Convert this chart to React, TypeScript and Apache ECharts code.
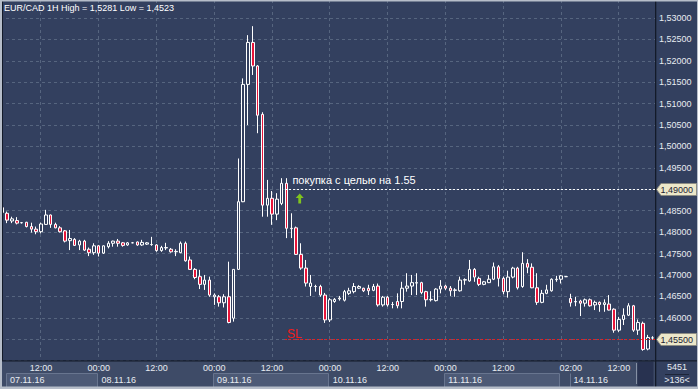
import React, { useEffect, useRef } from 'react';
import * as echarts from 'echarts';

// ---------- data ----------
const DAY_SEGMENTS: [string, number, number][] = [
  ['07.11.16', 4, 23],
  ['08.11.16', 0, 23],
  ['09.11.16', 0, 23],
  ['10.11.16', 0, 23],
  ['11.11.16', 0, 23],
  ['14.11.16', 0, 19],
];
const categories: string[] = [];
DAY_SEGMENTS.forEach(([d, a, b]) => {
  for (let h = a; h <= b; h++) categories.push(`${d} ${String(h).padStart(2, '0')}:00`);
});

// [open, close, low, high]
const ohlc: number[][] = [
  [1.4857, 1.4846, 1.4845, 1.4861],
  [1.4844, 1.4828, 1.4821, 1.4848],
  [1.4826, 1.4831, 1.4821, 1.4836],
  [1.4827, 1.4821, 1.4818, 1.4835],
  [1.4822, 1.4822, 1.482, 1.4823],
  [1.4823, 1.4813, 1.4811, 1.4824],
  [1.4813, 1.4807, 1.4799, 1.4822],
  [1.4807, 1.4801, 1.4795, 1.4813],
  [1.4801, 1.4819, 1.4797, 1.4822],
  [1.4818, 1.484, 1.4817, 1.4852],
  [1.484, 1.4818, 1.481, 1.4841],
  [1.4818, 1.481, 1.4809, 1.4822],
  [1.481, 1.4801, 1.4799, 1.4814],
  [1.4803, 1.4779, 1.4776, 1.4805],
  [1.478, 1.4785, 1.4758, 1.4805],
  [1.4783, 1.4769, 1.4768, 1.4786],
  [1.477, 1.4779, 1.4758, 1.4782],
  [1.4779, 1.4758, 1.4756, 1.4782],
  [1.476, 1.4752, 1.4744, 1.4764],
  [1.4752, 1.4768, 1.4747, 1.4774],
  [1.4768, 1.4751, 1.4743, 1.477],
  [1.4751, 1.4768, 1.4749, 1.4769],
  [1.4766, 1.4774, 1.4762, 1.4779],
  [1.4774, 1.4779, 1.4766, 1.478],
  [1.4779, 1.4774, 1.4766, 1.4784],
  [1.4775, 1.4769, 1.4766, 1.4777],
  [1.477, 1.4775, 1.4768, 1.4777],
  [1.4775, 1.4775, 1.4774, 1.4777],
  [1.4777, 1.477, 1.4768, 1.4778],
  [1.477, 1.4776, 1.4768, 1.4782],
  [1.4772, 1.4775, 1.477, 1.4777],
  [1.4771, 1.4771, 1.4768, 1.4789],
  [1.477, 1.4757, 1.4754, 1.4772],
  [1.4757, 1.4764, 1.4754, 1.4768],
  [1.4763, 1.4764, 1.4758, 1.4775],
  [1.476, 1.4754, 1.4752, 1.4763],
  [1.4754, 1.4755, 1.4744, 1.476],
  [1.4752, 1.4774, 1.4751, 1.4778],
  [1.4774, 1.4733, 1.4731, 1.4778],
  [1.4735, 1.4713, 1.4712, 1.4743],
  [1.4713, 1.4694, 1.469, 1.4716],
  [1.4696, 1.4678, 1.4667, 1.4712],
  [1.4678, 1.4688, 1.4665, 1.47],
  [1.4688, 1.4653, 1.4649, 1.4696],
  [1.4649, 1.4653, 1.463, 1.4657],
  [1.4649, 1.4635, 1.4626, 1.4653],
  [1.4635, 1.4649, 1.4624, 1.4655],
  [1.4649, 1.4589, 1.4587, 1.4731],
  [1.4599, 1.4713, 1.4591, 1.4713],
  [1.4713, 1.4871, 1.4712, 1.4972],
  [1.4871, 1.5145, 1.487, 1.5159],
  [1.5145, 1.5243, 1.505, 1.526],
  [1.5243, 1.5188, 1.5167, 1.5281],
  [1.5188, 1.5073, 1.5031, 1.519],
  [1.5075, 1.4863, 1.4836, 1.508],
  [1.4863, 1.4879, 1.4836, 1.4922],
  [1.4879, 1.4842, 1.4817, 1.4896],
  [1.4842, 1.4877, 1.4828, 1.4891],
  [1.4867, 1.4914, 1.4863, 1.4926],
  [1.4914, 1.4809, 1.4786, 1.4926],
  [1.4809, 1.4808, 1.4786, 1.4844],
  [1.481, 1.4748, 1.4747, 1.4813],
  [1.4748, 1.4716, 1.4712, 1.4774],
  [1.4716, 1.4681, 1.4673, 1.4735],
  [1.4673, 1.4681, 1.4651, 1.47],
  [1.4673, 1.4673, 1.4661, 1.4677],
  [1.4673, 1.4653, 1.4649, 1.4677],
  [1.4653, 1.4595, 1.4588, 1.4658],
  [1.4595, 1.4642, 1.459, 1.4646],
  [1.4638, 1.4643, 1.4635, 1.4646],
  [1.4644, 1.4646, 1.464, 1.4651],
  [1.4641, 1.4661, 1.4638, 1.4665],
  [1.4657, 1.4663, 1.4653, 1.467],
  [1.4661, 1.4673, 1.4657, 1.4681],
  [1.4669, 1.4673, 1.4667, 1.4676],
  [1.4669, 1.4663, 1.466, 1.467],
  [1.4669, 1.4663, 1.4653, 1.4677],
  [1.4664, 1.4673, 1.4662, 1.4679],
  [1.4674, 1.463, 1.4626, 1.468],
  [1.463, 1.4648, 1.4626, 1.4651],
  [1.4648, 1.463, 1.4626, 1.4651],
  [1.4631, 1.4631, 1.4622, 1.4637],
  [1.4638, 1.4628, 1.4622, 1.4657],
  [1.4638, 1.4669, 1.4622, 1.4684],
  [1.4669, 1.4674, 1.4661, 1.4704],
  [1.4674, 1.4682, 1.4653, 1.47],
  [1.4681, 1.4682, 1.4653, 1.4704],
  [1.4682, 1.4659, 1.4655, 1.4684],
  [1.4661, 1.4642, 1.4626, 1.4663],
  [1.4642, 1.4643, 1.4638, 1.4662],
  [1.464, 1.4667, 1.4638, 1.4669],
  [1.4667, 1.4674, 1.4657, 1.4688],
  [1.4674, 1.4669, 1.4665, 1.4677],
  [1.4669, 1.4663, 1.4651, 1.4674],
  [1.4664, 1.4665, 1.4649, 1.4669],
  [1.4663, 1.4688, 1.4661, 1.4696],
  [1.4688, 1.4689, 1.4677, 1.4692],
  [1.4686, 1.4713, 1.4684, 1.4735],
  [1.4713, 1.4695, 1.4684, 1.4716],
  [1.4692, 1.4678, 1.4674, 1.4696],
  [1.4678, 1.4684, 1.4676, 1.4686],
  [1.4682, 1.469, 1.4681, 1.47],
  [1.469, 1.4719, 1.4688, 1.4729],
  [1.4719, 1.4692, 1.4673, 1.4723],
  [1.4692, 1.4661, 1.4655, 1.4696],
  [1.4661, 1.4695, 1.4647, 1.471],
  [1.4695, 1.4716, 1.4692, 1.4719],
  [1.4716, 1.467, 1.4666, 1.4719],
  [1.4673, 1.4727, 1.467, 1.4753],
  [1.4727, 1.4718, 1.4704, 1.4737],
  [1.4718, 1.467, 1.4669, 1.4727],
  [1.467, 1.4636, 1.463, 1.4704],
  [1.4636, 1.4657, 1.4634, 1.4665],
  [1.4657, 1.4665, 1.4655, 1.4677],
  [1.4663, 1.469, 1.4661, 1.4692],
  [1.4689, 1.469, 1.4684, 1.4698],
  [1.469, 1.4698, 1.468, 1.47],
  [1.4696, 1.4696, 1.4695, 1.4697],
  [1.4645, 1.4635, 1.4626, 1.4656],
  [1.4637, 1.4638, 1.4627, 1.4649],
  [1.4639, 1.4634, 1.4604, 1.4642],
  [1.4634, 1.4642, 1.4626, 1.4645],
  [1.4642, 1.4628, 1.4626, 1.4645],
  [1.463, 1.4636, 1.4618, 1.464],
  [1.4636, 1.4631, 1.4614, 1.4638],
  [1.4631, 1.4635, 1.4614, 1.4643],
  [1.4632, 1.4618, 1.4617, 1.4653],
  [1.462, 1.4571, 1.4565, 1.4622],
  [1.4571, 1.4596, 1.4567, 1.4602],
  [1.4596, 1.4606, 1.4583, 1.4622],
  [1.4606, 1.4628, 1.4604, 1.4634],
  [1.4628, 1.4571, 1.4567, 1.463],
  [1.4571, 1.4589, 1.456, 1.4596],
  [1.4587, 1.4526, 1.4523, 1.4591],
  [1.4527, 1.4554, 1.4524, 1.456],
  [1.4553, 1.4553, 1.4549, 1.4557],
];

const TIME_LABEL_IDX = [8, 20, 32, 44, 56, 68, 80, 92, 104, 118, 128];
const GRID_LINE_IDX = [8, 20, 32, 44, 56, 68, 80, 92, 104, 116, 128];
// date label: text, first bar index, bar index where its box ends (null = no box)
const DAY_LABELS: [string, number, number | null][] = [
  ['07.11.16', 1, 20],
  ['08.11.16', 20, null],
  ['09.11.16', 44, 68],
  ['10.11.16', 68, null],
  ['11.11.16', 92, 116],
  ['14.11.16', 118, null],
];
const Y_MIN = 1.45;
const Y_MAX = 1.53421;
const Y_STEP = 0.005;
const TITLE = 'EUR/CAD 1H High = 1,5281 Low = 1,4523';
const TARGET_PRICE = 1.49;
const SL_PRICE = 1.455;
const LEVEL_FROM_IDX = 59;
const TARGET_TEXT = 'покупка с целью на 1.55';
const SL_TEXT = 'SL';
const BAR_INFO = ['5451', '>136<'];

// ---------- styles ----------
const BG = '#33405f';
const STRIP = '#3e4b67';
const BOX = '#4d5a76';
const BOX_BORDER = '#68758f';
const GRID_COLOR = '#56657f';
const TEXT = '#e8ecf2';
const RED = '#e8153a';
const SL_RED = '#f01c1c';
const FRAME = '#b6bdc9';
const DARK = '#131a29';
const FONT = 'Liberation Sans';

export default function App() {
  const ref = useRef<HTMLDivElement>(null);
  useEffect(() => {
    const el = ref.current!;
    const chart = echarts.init(el, undefined, { renderer: 'svg' });
    const fmt = (v: number) => {
      const r = Math.round(v / Y_STEP) * Y_STEP;
      if (Math.abs(v - r) > 1e-7) return '';
      if (r < Y_MIN + 0.001) return '';
      if (Math.abs(r - TARGET_PRICE) < 1e-6 || Math.abs(r - SL_PRICE) < 1e-6) return '';
      return r.toFixed(5).replace('.', ',');
    };
    chart.setOption({
      animation: false,
      backgroundColor: BG,
      title: {
        text: TITLE,
        left: 4,
        top: 3,
        padding: 0,
        textStyle: { fontSize: 9, fontWeight: 'normal', color: '#ffffff', fontFamily: FONT },
      },
      grid: { left: 0, top: 0, width: 655, height: 360.58 },
      xAxis: {
        type: 'category',
        data: categories,
        boundaryGap: true,
        z: 50,
        axisLine: { show: false },
        axisTick: { show: false },
        splitLine: { show: false },
        axisLabel: {
          interval: (i: number) => TIME_LABEL_IDX.includes(i),
          formatter: (v: string) => v.slice(9),
          color: TEXT,
          fontSize: 9,
          fontFamily: FONT,
          margin: 3,
        },
      },
      yAxis: {
        type: 'value',
        position: 'right',
        min: Y_MIN,
        max: Y_MAX,
        interval: Y_STEP,
        axisLine: { show: false },
        axisTick: { show: false },
        splitLine: { show: true, lineStyle: { color: GRID_COLOR, type: [3, 3], width: 1 } },
        axisLabel: { formatter: fmt, color: TEXT, fontSize: 9, fontFamily: FONT, margin: 4 },
      },
      series: [
        {
          type: 'candlestick',
          data: ohlc,
          barWidth: 3,
          clip: true,
          itemStyle: {
            color: BG,
            color0: RED,
            borderColor: '#ffffff',
            borderColor0: '#ffffff',
            borderColorDoji: '#ffffff',
            borderWidth: 1,
          },
        },
      ],
    });

    const px = (i: number) => chart.convertToPixel({ xAxisIndex: 0 }, i) as number;
    const py = (v: number) => chart.convertToPixel({ yAxisIndex: 0 }, v) as number;
    const els: any[] = [];
    const txt = (x: number, y: number, text: string, o: any = {}) => ({
      type: 'text',
      x,
      y,
      z: o.z ?? 102,
      silent: true,
      style: {
        text,
        fill: o.fill ?? TEXT,
        fontSize: o.size ?? 9,
        fontFamily: FONT,
        align: o.align ?? 'left',
        textAlign: o.align ?? 'left',
        verticalAlign: 'middle',
        textVerticalAlign: 'middle',
      },
    });

    // vertical grid
    GRID_LINE_IDX.forEach((i) => {
      const x = Math.floor(px(i)) + 0.5;
      els.push({
        type: 'line', z: 1, silent: true,
        shape: { x1: x, y1: 0, x2: x, y2: 360 },
        style: { stroke: GRID_COLOR, lineWidth: 1, lineDash: [3, 3] },
      });
    });

    // levels
    const yT = Math.round(py(TARGET_PRICE)) + 0.5;
    const ySL = Math.round(py(SL_PRICE)) + 0.5;
    const x0 = px(LEVEL_FROM_IDX) - 1.5;
    els.push({ type: 'line', z: 3, silent: true, shape: { x1: x0, y1: yT, x2: 655, y2: yT }, style: { stroke: '#ffffff', lineWidth: 1, lineDash: [2, 2] } });
    els.push({ type: 'line', z: 3, silent: true, shape: { x1: x0, y1: ySL, x2: 655, y2: ySL }, style: { stroke: SL_RED, lineWidth: 1, lineDash: [2, 2] } });
    els.push(txt(px(LEVEL_FROM_IDX + 1) + 1, yT - 9.8, TARGET_TEXT, { size: 11, fill: '#ffffff' }));
    els.push(txt(px(LEVEL_FROM_IDX) + 0.5, ySL - 6, SL_TEXT, { size: 12, fill: SL_RED }));
    // green arrow
    const ax = px(LEVEL_FROM_IDX + 3) - 1.3;
    const at = yT + 4;
    els.push({
      type: 'polygon', z: 5, silent: true,
      shape: { points: [[ax, at], [ax + 4, at + 4.5], [ax + 1.4, at + 4.5], [ax + 1.4, at + 10], [ax - 1.4, at + 10], [ax - 1.4, at + 4.5], [ax - 4, at + 4.5]] },
      style: { fill: '#80c41e' },
    });

    // bottom strip
    els.push({ type: 'rect', z: 40, silent: true, shape: { x: 0, y: 361, width: 698, height: 26 }, style: { fill: STRIP } });
    DAY_LABELS.forEach(([t, from, to]) => {
      const left = px(from) - 1.2;
      if (to !== null) {
        const right = px(to) - 1.6;
        els.push({ type: 'rect', z: 41, silent: true, shape: { x: Math.round(left) + 0.5, y: 373.5, width: Math.round(right - left), height: 14 }, style: { fill: BOX, stroke: BOX_BORDER, lineWidth: 1 } });
      }
      if (t === '14.11.16') {
        const lx = Math.round(left) + 0.5;
        els.push({ type: 'line', z: 41, silent: true, shape: { x1: lx, y1: 373.5, x2: lx, y2: 387 }, style: { stroke: BOX_BORDER, lineWidth: 1 } });
      }
      els.push(txt(left + 4, 379.6, t, { z: 42 }));
    });
    els.push({ type: 'rect', z: 43, silent: true, shape: { x: 637.5, y: 361.5, width: 16, height: 25 }, style: { fill: '#283250' } });
    els.push({ type: 'rect', z: 43, silent: true, shape: { x: 636, y: 363, width: 1, height: 21 }, style: { fill: '#8590a4' } });
    // right-bottom cell
    els.push({ type: 'rect', z: 43, silent: true, shape: { x: 656, y: 361.5, width: 42, height: 25 }, style: { fill: BG } });
    els.push(txt(677, 367.4, BAR_INFO[0], { align: 'center', z: 44 }));
    els.push({ type: 'rect', z: 44, silent: true, shape: { x: 665, y: 374, width: 24, height: 1 }, style: { fill: '#1e2639' } });
    els.push(txt(677, 379.6, BAR_INFO[1], { align: 'center', z: 44 }));

    // price tags
    [[yT, TARGET_PRICE], [ySL, SL_PRICE]].forEach(([y, v]) => {
      els.push({
        type: 'polygon', z: 100, silent: true,
        shape: { points: [[656.5, y], [661, y - 6], [696.5, y - 6], [696.5, y + 6], [661, y + 6]] },
        style: { fill: '#ece7c9', stroke: '#8b8b83', lineWidth: 1 },
      });
      els.push(txt(660.5, y, v.toFixed(5).replace('.', ','), { fill: '#1b2233', z: 101 }));
    });

    // frame and separators
    els.push({ type: 'rect', z: 110, silent: true, shape: { x: 655, y: 0, width: 1.3, height: 387 }, style: { fill: DARK } });
    els.push({ type: 'rect', z: 110, silent: true, shape: { x: 0, y: 360.3, width: 698, height: 1.3 }, style: { fill: DARK } });
    els.push({ type: 'rect', z: 110, silent: true, shape: { x: 2, y: 0, width: 1, height: 361 }, style: { fill: DARK } });
    els.push({ type: 'rect', z: 111, silent: true, shape: { x: 0, y: 0, width: 698, height: 1.5 }, style: { fill: FRAME } });
    els.push({ type: 'rect', z: 111, silent: true, shape: { x: 0, y: 0, width: 2, height: 389 }, style: { fill: FRAME } });
    els.push({ type: 'rect', z: 111, silent: true, shape: { x: 697, y: 0, width: 1, height: 389 }, style: { fill: FRAME } });
    els.push({ type: 'rect', z: 111, silent: true, shape: { x: 0, y: 386.5, width: 698, height: 2.5 }, style: { fill: FRAME } });

    chart.setOption({ graphic: { elements: els } });
    return () => chart.dispose();
  }, []);
  return <div ref={ref} style={{ position: 'fixed', left: 0, top: 0, width: 698, height: 389 }} />;
}
